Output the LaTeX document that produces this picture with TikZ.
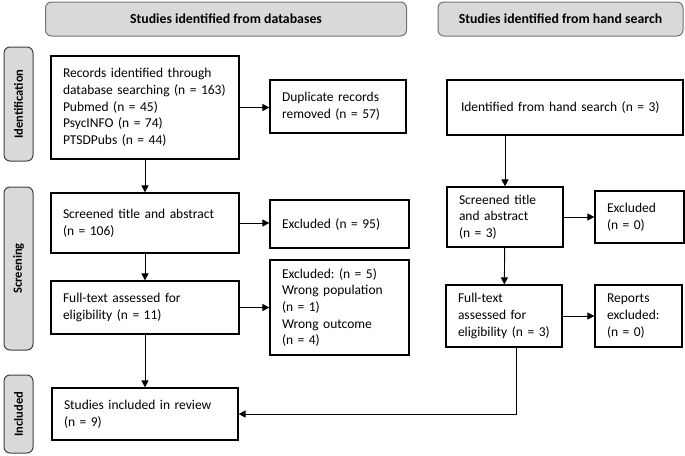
\documentclass[tikz,border=0pt]{standalone}
\usepackage{fontspec}
\setmainfont{Carlito}
\usetikzlibrary{arrows.meta}

\begin{document}
\frenchspacing
\begin{tikzpicture}[x=1pt, y=-1pt,
	every node/.style={font=\fontsize{13.5}{16.7}\selectfont},
	hdr/.style={draw=black!55, fill=black!15, rounded corners=6pt, line width=1pt, font=\fontsize{13.8}{16.7}\selectfont\bfseries, minimum height=34pt},
	side/.style={draw=black!75, fill=black!15, rounded corners=6pt, line width=1pt, rotate=90, font=\fontsize{12.5}{14}\selectfont\bfseries, minimum height=29pt, inner sep=0pt},
	box/.style={draw, line width=1.2pt, align=left, inner xsep=12pt, inner ysep=2pt},
	arr/.style={line width=0.9pt, -{Triangle[length=7pt,width=7pt]}}]
	% bounding box of the whole figure
	\useasboundingbox (0,0) rectangle (685,455);
	
	% --- HEADERS ---
	\node[hdr, minimum width=361pt] (hdrA) at (226,19) {Studies identified from databases};
	\node[hdr, minimum width=245pt] (hdrB) at (560.5,19) {Studies identified from hand search};
	
	% --- SIDE LABELS ---
	\node[side, minimum width=114pt] (sideId) at (18.5,104) {Identification};
	\node[side, minimum width=163pt] (sideScr) at (18.5,268.5) {Screening};
	\node[side, minimum width=78pt] (sideInc) at (18.5,414) {Included};
	
	% --- DATABASES (left) ---
	\node[box, text width=164pt, minimum height=103pt] (rec) at (145,107.5) {Records identified through\\database searching (n = 163)\\Pubmed (n = 45)\\PsycINFO (n = 74)\\PTSDPubs (n = 44)};
	\node[box, text width=112pt, minimum height=53pt] (dup) at (338,106.5) {Duplicate records\\removed (n = 57)};
	\node[box, text width=164pt, minimum height=60pt] (scr) at (145,223) {Screened title and abstract\\(n = 106)};
	\node[box, text width=115pt, minimum height=48pt] (exA) at (339.5,224) {Excluded (n = 95)};
	\node[box, text width=164pt, minimum height=53pt] (ft) at (145,307.5) {Full-text assessed for\\eligibility (n = 11)};
	\node[box, text width=115pt, minimum height=95pt] (exB) at (339.5,307.5) {Excluded: (n = 5)\\Wrong population\\(n = 1)\\Wrong outcome\\(n = 4)};
	\node[box, text width=162pt, minimum height=52pt] (inc) at (145,414) {Studies included in review\\(n = 9)};
	
	% --- HAND SEARCH (right) ---
	\node[box, minimum height=55pt, inner xsep=14pt, text width=208pt] (hid) at (565,107.5) {Identified from hand search (n = 3)};
	\node[box, text width=92pt, minimum height=60pt] (hscr) at (505,217) {Screened title\\and abstract\\(n = 3)};
	\node[box, text width=65pt, minimum height=52pt] (hexA) at (639.5,217) {Excluded\\(n = 0)};
	\node[box, text width=92pt, minimum height=62pt] (hft) at (504,316) {Full-text\\assessed for\\eligibility (n = 3)};
	\node[box, text width=63pt, minimum height=62pt] (hexB) at (638.5,316) {Reports\\excluded:\\(n = 0)};
	
	% --- ARROWS ---
	\draw[arr] (rec) -- (scr);
	\draw[arr] (scr) -- (ft);
	\draw[arr] (ft) -- (inc);
	\draw[arr] (rec.east) -- (rec.east -| dup.west);
	\draw[arr] (scr.east) -- (scr.east -| exA.west);
	\draw[arr] (ft.east) -- (ft.east -| exB.west);
	
	\draw[arr] (hscr.north |- hid.south) -- (hscr.north);
	\draw[arr] (hscr) -- (hft);
	\draw[arr] (hscr) -- (hexA);
	\draw[arr] (hft) -- (hexB);
	\draw[arr] ([xshift=12pt]hft.south) |- (inc.east);
\end{tikzpicture}
\end{document}
